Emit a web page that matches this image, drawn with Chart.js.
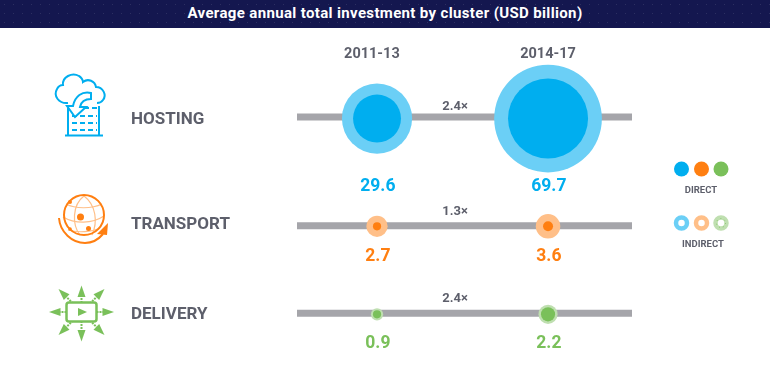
<!DOCTYPE html>
<html>
<head>
<meta charset="utf-8">
<title>Average annual total investment by cluster</title>
<script src="https://cdn.jsdelivr.net/npm/chart.js@4"></script>
<style>
    html, body { margin: 0; padding: 0; background: #fff; overflow: hidden; }
    #wrap { position: relative; width: 770px; height: 375px; font-family: Roboto, sans-serif; }
    #investmentChart { position: absolute; left: 0; top: 0; }
    #titleBand {
        position: absolute; left: 0; top: 0; width: 770px; height: 28px; line-height: 27px;
        background-color: #14174f; color: #fff; text-align: center;
        font-size: 15px; font-weight: 700; letter-spacing: 0.35px;
        background-image: radial-gradient(rgba(255,255,255,0.10) 0.6px, transparent 0.8px);
        background-size: 9px 9px;
    }
    #art { position: absolute; left: 0; top: 0; }
    #art text { font-family: Roboto, sans-serif; font-weight: 700; font-size: 9.5px; fill: #5d5f6b; text-anchor: middle; }
</style>
</head>
<body>
<div id="wrap">
    <canvas id="investmentChart" width="770" height="375"></canvas>
    <div id="titleBand">Average annual total investment by cluster (USD billion)</div>
    <svg id="art" width="770" height="375" viewBox="0 0 770 375">
        <!-- hosting icon -->
        <g fill="none" stroke="#00aeef" stroke-width="2">
            <path d="M68 103 C59 104 53 96 57 89 C59 85 61 85 63 85 C62 77 72 72 79 76 C81 77 83 80 83 82 C88 78 95 81 96 87 C103 87 107 95 103 100 C101 103 99 103 97 103"/>
            <path d="M68 108 V135 M99 106 V135 M65 135.500 H103"/>
            <path d="M84 108 H97 M72 116 H97 M72 123 H97 M72 130 H97" stroke-dasharray="5 3"/>
        </g>
        <path d="M91 93 C82 91 75 96 73 106 L67 106 L75 117 L86 107 L80 107 C81 102 85 99 91 99 Z" fill="#fff" stroke="#00aeef" stroke-width="2"/>
        <!-- transport icon -->
        <g fill="none" stroke="#ffbf88" stroke-width="1.2">
            <path d="M66 204 C75 209 92 209 102 204 M63 217 C75 224 92 224 104 216 M68 230 C78 233 92 232 100 228"/>
            <path d="M84 196 C72 205 72 225 80 235 M84 196 C96 205 98 222 92 235"/>
        </g>
        <circle cx="84" cy="215" r="20" fill="none" stroke="#ff7f11" stroke-width="2"/>
        <g fill="#ff7f11">
            <circle cx="80.500" cy="217" r="3.500"/>
            <circle cx="88.500" cy="228.500" r="2.500"/>
            <circle cx="70" cy="202" r="2"/>
            <circle cx="70" cy="229" r="1.800"/>
            <path d="M108 223 L107 235 L97 234 Z"/>
        </g>
        <path d="M59 218 C60 232 72 243 85 243 C92 243 98 240 103 234" fill="none" stroke="#ff7f11" stroke-width="2"/>
        <!-- delivery icon -->
        <defs>
            <g id="spoke">
                <line x1="81.500" y1="300" x2="81.500" y2="289" stroke="#7ac05a" stroke-width="2" stroke-dasharray="2 1"/>
                <path d="M81.500 279.500 L77.500 291 L85.500 291 Z" fill="#7ac05a"/>
            </g>
        </defs>
        <use href="#spoke" transform="translate(0 6)"/>
        <use href="#spoke" transform="rotate(45 81.500 312)"/>
        <use href="#spoke" transform="rotate(90 81.500 312)"/>
        <use href="#spoke" transform="rotate(135 81.500 312)"/>
        <use href="#spoke" transform="translate(0 -3) rotate(180 81.500 312)"/>
        <use href="#spoke" transform="rotate(225 81.500 312)"/>
        <use href="#spoke" transform="rotate(270 81.500 312)"/>
        <use href="#spoke" transform="rotate(315 81.500 312)"/>
        <rect x="66.500" y="302.500" width="30" height="19" rx="2.500" fill="#fff" stroke="#7ac05a" stroke-width="2.500"/>
        <path d="M78 308 L78 316 L87 312 Z" fill="#7ac05a"/>
        <!-- legend -->
        <circle cx="681.500" cy="169" r="7.500" fill="#00aeef"/>
        <circle cx="701.500" cy="169" r="7.500" fill="#ff7f11"/>
        <circle cx="721" cy="169" r="7.500" fill="#7ac05a"/>
        <text x="701" y="193">DIRECT</text>
        <circle cx="681.500" cy="223" r="5.500" fill="#fff" stroke="#6bcff6" stroke-width="4.500"/>
        <circle cx="701.500" cy="223" r="5.500" fill="#fff" stroke="#ffbf88" stroke-width="4.500"/>
        <circle cx="721" cy="223" r="5.500" fill="#fff" stroke="#bfdfb0" stroke-width="4.500"/>
        <circle cx="721" cy="223" r="4.500" fill="none" stroke="#7ac05a" stroke-width="0.8" stroke-dasharray="1 3"/>
        <text x="703" y="247">INDIRECT</text>
    </svg>
</div>
<script>
// values (USD billion), direct shares estimated from the inner circles
const periods = ['2011-13', '2014-17'];
const clusters = ['HOSTING', 'TRANSPORT', 'DELIVERY'];
const hostingTotal = [29.6, 69.7];
const transportTotal = [2.7, 3.6];
const deliveryTotal = [0.9, 2.2];
const hostingDirect = [13.8, 38.5];
const transportDirect = [0.4, 0.6];
const deliveryDirect = [0.4, 1.2];
const multiples = ['2.4×', '1.3×', '2.4×'];

const totals = [hostingTotal, transportTotal, deliveryTotal];
const directs = [hostingDirect, transportDirect, deliveryDirect];

const directColors = ['#00aeef', '#ff7f11', '#7ac05a'];
const indirectColors = ['#6bcff6', '#ffbf88', '#bfdfb0'];
const textColor = '#5d5f6b';
const trackColor = '#a5a5aa';

// y axis is in rows, the rows are not evenly spaced in the original
const rowPosition = [0, 0.98, 1.78];
const trackPosition = [-0.014, 0.975, 1.77];
const rowTickPosition = [0.01, 0.965, 1.78];
const multiplePosition = [-0.11, 0.845, 1.64];
const valuePosition = [0.618, 1.254, 2.045];
const periodTickPosition = [-0.03, 1];
const valueNudge = [0.005, 0.005];

// bubble area follows the value
const radiusPerRootValue = 6.45;

function bubblePoints(valueRows) {
    const points = [];
    valueRows.forEach((row, rowIndex) => {
        row.forEach((value, periodIndex) => {
            points.push({
                x: periodIndex,
                y: rowPosition[rowIndex],
                r: radiusPerRootValue * Math.sqrt(value)
            });
        });
    });
    return points;
}

function pointColors(colors) {
    const list = [];
    colors.forEach(color => list.push(color, color));
    return list;
}

const xMin = -0.468;
const xMax = 1.491;
const yMin = -0.505;
const yMax = 1.842;

const trackDatasets = clusters.map((name, i) => ({
    type: 'line',
    label: name + ' track',
    data: [{ x: xMin, y: trackPosition[i] }, { x: xMax, y: trackPosition[i] }],
    borderColor: trackColor,
    borderWidth: 7,
    pointRadius: 0,
    order: 3
}));

// text that sits on the chart: values under the bubbles, multiples over the tracks
const chartText = {
    id: 'chartText',
    afterDatasetsDraw(chart) {
        const { ctx, scales } = chart;
        ctx.save();
        ctx.textAlign = 'center';
        ctx.textBaseline = 'middle';
        totals.forEach((row, i) => {
            ctx.font = '700 17.5px Roboto';
            ctx.fillStyle = directColors[i];
            row.forEach((value, p) => {
                ctx.fillText(value.toFixed(1), scales.x.getPixelForValue(p + valueNudge[p]), scales.y.getPixelForValue(valuePosition[i]));
            });
            ctx.font = '700 13px Roboto';
            ctx.fillStyle = textColor;
            ctx.fillText(multiples[i], scales.x.getPixelForValue(0.456), scales.y.getPixelForValue(multiplePosition[i]));
        });
        ctx.restore();
    }
};

const investmentChart = new Chart(document.getElementById('investmentChart').getContext('2d'), {
    data: {
        datasets: [
            ...trackDatasets,
            {
                type: 'bubble',
                label: 'Indirect',
                data: bubblePoints(totals),
                backgroundColor: pointColors(indirectColors),
                borderWidth: 0,
                clip: false,
                order: 2
            },
            {
                type: 'bubble',
                label: 'Direct',
                data: bubblePoints(directs),
                backgroundColor: pointColors(directColors),
                borderWidth: 0,
                clip: false,
                order: 1
            }
        ]
    },
    options: {
        responsive: false,
        animation: false,
        events: [],
        layout: { padding: { left: 131, right: 138, top: 0, bottom: 15 } },
        plugins: { legend: { display: false }, tooltip: { enabled: false } },
        scales: {
            x: {
                type: 'linear',
                position: 'top',
                min: xMin,
                max: xMax,
                grid: { display: false, drawTicks: false },
                border: { display: false },
                afterBuildTicks: scale => {
                    scale.ticks = periodTickPosition.map(value => ({ value }));
                },
                afterFit: scale => {
                    scale.height = 63;
                },
                ticks: {
                    autoSkip: false,
                    maxRotation: 0,
                    padding: 0,
                    color: textColor,
                    font: { family: 'Roboto', weight: '700', size: 14.5 },
                    callback: (value, index) => periods[index]
                }
            },
            y: {
                type: 'linear',
                reverse: true,
                min: yMin,
                max: yMax,
                grid: { display: false, drawTicks: false },
                border: { display: false },
                afterBuildTicks: scale => {
                    scale.ticks = rowTickPosition.map(value => ({ value }));
                },
                afterFit: scale => {
                    scale.width = 166;
                },
                ticks: {
                    autoSkip: false,
                    crossAlign: 'far',
                    padding: 0,
                    color: textColor,
                    font: { family: 'Roboto', weight: '700', size: 17 },
                    callback: (value, index) => clusters[index]
                }
            }
        }
    },
    plugins: [chartText]
});
</script>
</body>
</html>
